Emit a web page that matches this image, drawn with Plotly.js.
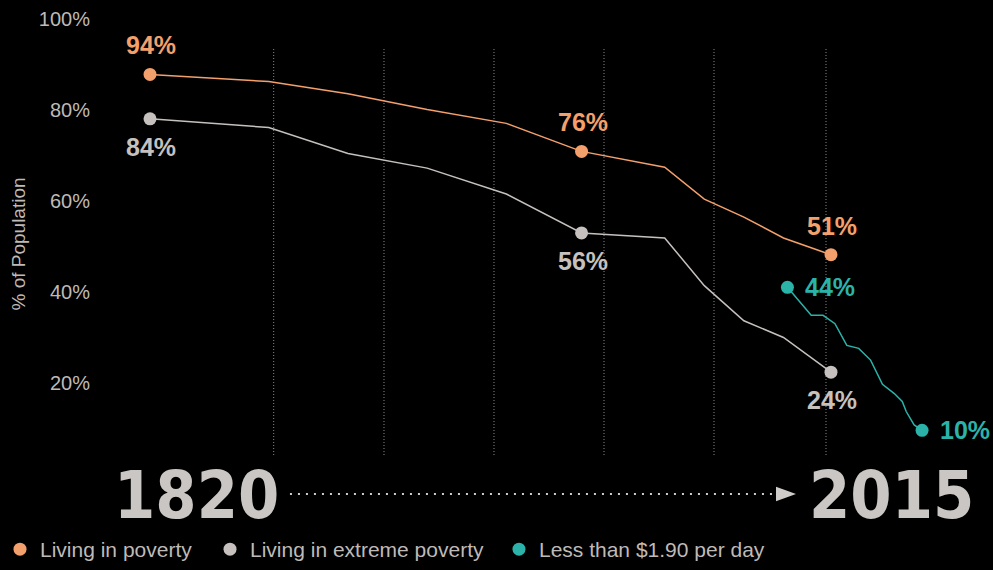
<!DOCTYPE html>
<html>
<head>
<meta charset="utf-8">
<script src="https://cdn.plot.ly/plotly-3.0.1.min.js"></script>
<style>
  html, body { margin: 0; padding: 0; background: #000; }
  #chart { width: 993px; height: 570px; }
</style>
</head>
<body>
<div id="chart"></div>
<script>
// ---- Data ----
const years = [1820, 1850, 1870, 1890, 1910, 1929, 1950, 1960, 1970, 1980, 1992];
const poverty = [94.4, 92.7, 89.8, 86.0, 82.7, 76.0, 72.2, 64.6, 60.3, 55.3, 51.3];
const extremePoverty = [83.8, 81.7, 75.5, 72.0, 65.8, 56.5, 55.3, 43.9, 35.5, 31.5, 23.2];
const povertyLabels = ['94%', '', '', '', '', '76%', '', '', '', '', '51%'];
const extremeLabels = ['84%', '', '', '', '', '56%', '', '', '', '', '24%'];

const dollarYears = [1981, 1987, 1990, 1993, 1996, 1999, 2002, 2005, 2008, 2010, 2011, 2013, 2015];
const dollarPoverty = [43.5, 36.8, 36.8, 34.8, 29.6, 28.9, 26.1, 20.3, 18.1, 16.2, 13.8, 10.6, 9.3];
const dollarLabels = ['44%', '', '', '', '', '', '', '', '', '', '', '', '10%'];

const seriesNames = ['Living in poverty', 'Living in extreme poverty', 'Less than $1.90 per day'];
const yTickVals = [20, 40, 60, 80, 100];
const yTickText = ['20%', '40%', '60%', '80%', '100%'];
const startYearText = '1820';
const endYearText = '2015';
const gridYears = [1851.24, 1879.10, 1906.88, 1934.67, 1962.45, 1990.74];

// ---- Styles ----
const ORANGE = '#F4A06C';
const GREY = '#C6C1BE';
const TEAL = '#2BB3AA';
const TEXT = '#BFBAB7';
const FONT = 'Liberation Sans, Arial, Helvetica, sans-serif';
const BIGFONT = 'DejaVu Sans Condensed, sans-serif';

function pick(arr, labels) { return arr.filter((_, i) => labels[i] !== ''); }

const series = [
  { x: years, y: poverty, labels: povertyLabels, color: ORANGE, name: seriesNames[0], legend: 'legend' },
  { x: years, y: extremePoverty, labels: extremeLabels, color: GREY, name: seriesNames[1], legend: 'legend2' },
  { x: dollarYears, y: dollarPoverty, labels: dollarLabels, color: TEAL, name: seriesNames[2], legend: 'legend3' }
];

const traces = [];
series.forEach(s => {
  traces.push({
    type: 'scatter', mode: 'lines', x: s.x, y: s.y,
    line: { color: s.color, width: 1.5 },
    showlegend: false, hoverinfo: 'skip', xaxis: 'x', yaxis: 'y'
  });
});
series.forEach(s => {
  traces.push({
    type: 'scatter', mode: 'markers', name: s.name,
    x: pick(s.x, s.labels), y: pick(s.y, s.labels),
    marker: { color: s.color, size: 13 },
    legend: s.legend, xaxis: 'x', yaxis: 'y'
  });
});

// Value labels (annotations anchored on data points)
const annotations = [];
function addLabels(s, placement) {
  s.x.forEach((xv, i) => {
    if (s.labels[i] === '') return;
    const p = placement(i);
    annotations.push(Object.assign({
      x: xv, y: s.y[i], xref: 'x', yref: 'y', text: s.labels[i], showarrow: false,
      font: { family: FONT, size: 25, color: s.color, weight: 'bold' }
    }, p));
  });
}
addLabels(series[0], i => ({ xanchor: 'center', yanchor: 'middle', yshift: 29, xshift: 1 }));
addLabels(series[1], i => ({ xanchor: 'center', yanchor: 'middle', yshift: -28, xshift: 1 }));
addLabels(series[2], i => ({ xanchor: 'left', yanchor: 'middle', xshift: 16, yshift: 0 }));

// Big start / end years
const bigFont = { family: BIGFONT, size: 66, color: '#CAC6C3', weight: 'bold' };
annotations.push({
  xref: 'paper', yref: 'paper', x: 0.1974, y: -0.0384, xanchor: 'center', yanchor: 'middle',
  text: startYearText, showarrow: false, font: bigFont
});
annotations.push({
  xref: 'paper', yref: 'paper', x: 0.8973, y: -0.0384, xanchor: 'center', yanchor: 'middle',
  text: endYearText, showarrow: false, font: bigFont
});

const shapes = gridYears.map(g => ({
  type: 'line', xref: 'x', yref: 'y', x0: g, x1: g, y0: 3.4, y1: 100.8,
  line: { color: '#8C8C8C', width: 1, dash: '1px,2px' }, layer: 'below'
}));
// dotted arrow between the years
shapes.push({
  type: 'line', xref: 'paper', yref: 'paper', x0: 0.2920, x1: 0.7805, y0: -0.034, y1: -0.034,
  line: { color: '#D0CCC9', width: 2, dash: '2px,6px' }
});
shapes.push({
  type: 'path', xref: 'paper', yref: 'paper',
  path: 'M 0.7815 -0.0185 L 0.8016 -0.034 L 0.7815 -0.0495 Z',
  fillcolor: '#D0CCC9', line: { width: 0 }
});

const legendBase = {
  orientation: 'h', yanchor: 'middle', y: -0.153, xanchor: 'left',
  bgcolor: 'rgba(0,0,0,0)', font: { family: FONT, size: 21, color: TEXT },
  itemclick: false, itemdoubleclick: false
};

const layout = {
  width: 993, height: 570,
  paper_bgcolor: '#000', plot_bgcolor: '#000',
  margin: { l: 0, r: 0, t: 10, b: 90 },
  showlegend: true,
  xaxis: { domain: [0.1007, 1], range: [1807.37, 2032.92], visible: false, fixedrange: true, automargin: false },
  yaxis: { range: [-2.095, 109.81], visible: false, fixedrange: true, automargin: false },
  yaxis2: {
    overlaying: 'y', side: 'left', anchor: 'x', range: [-0.77, 101.97], automargin: false,
    tickvals: yTickVals, ticktext: yTickText,
    ticks: 'outside', ticklen: 5, tickcolor: 'rgba(0,0,0,0)',
    showgrid: false, zeroline: false, showline: false, fixedrange: true,
    tickfont: { family: FONT, size: 20, color: TEXT },
    title: { text: '% of Population', font: { family: FONT, size: 19, color: TEXT }, standoff: 8 }
  },
  legend: Object.assign({}, legendBase, { x: 0.0 }),
  legend2: Object.assign({}, legendBase, { x: 0.2115 }),
  legend3: Object.assign({}, legendBase, { x: 0.5025 }),
  annotations: annotations,
  shapes: shapes
};

// dummy trace to show yaxis2 ticks
traces.push({ type: 'scatter', x: [], y: [], yaxis: 'y2', xaxis: 'x', showlegend: false, hoverinfo: 'skip' });

Plotly.newPlot('chart', traces, layout, { displayModeBar: false, staticPlot: true });
</script>
</body>
</html>
